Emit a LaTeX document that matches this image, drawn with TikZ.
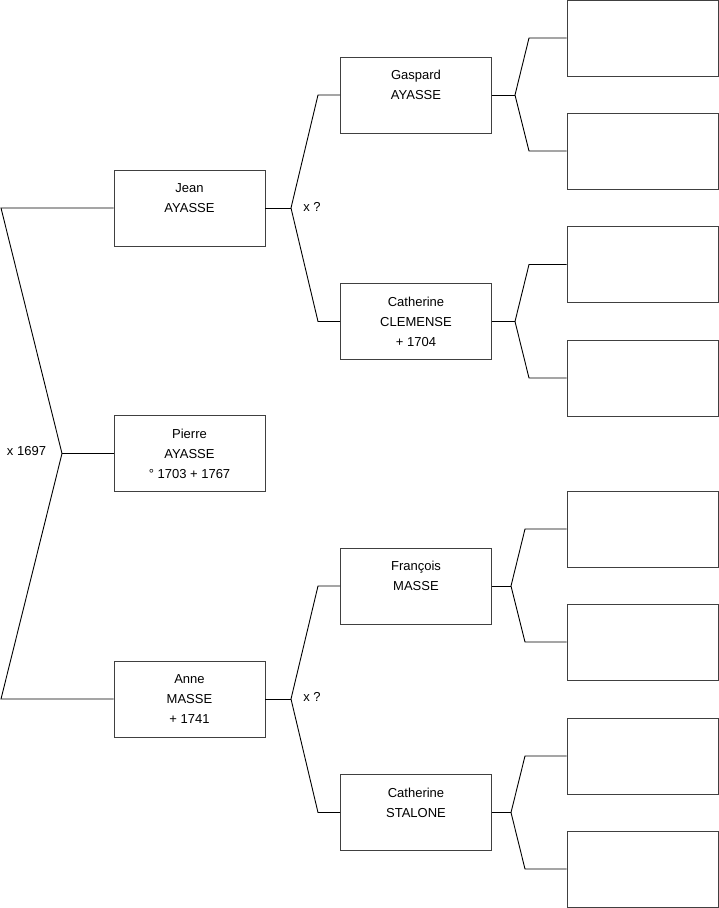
\documentclass[tikz,border=0pt]{standalone}
\usepackage{fontspec}
\setmainfont{Liberation Sans}
\usepackage{tikz}
\usetikzlibrary{positioning, calc}
\tikzstyle{person} = [rectangle, minimum width=151pt, minimum height=76pt, text centered, align=center, draw=black!75, line width=0.9pt, inner sep=0pt, font=\fontsize{13}{20}\selectfont]
\tikzstyle{link} = [line width=0.9pt, draw=black]
\tikzstyle{note} = [font=\fontsize{13}{15}\selectfont, inner sep=0pt]

\begin{document}
\begin{tikzpicture}[x=1pt, y=-1pt]
    \useasboundingbox (0,0) rectangle (719,908);

    % generation 1 and 2
    \node (jean) [person] at (189.5,208) {Jean\\AYASSE\\\phantom{0}};
    \node (pierre) [person] at (189.5,453.5) {Pierre\\AYASSE\\° 1703 + 1767};
    \node (anne) [person] at (189.5,699) {Anne\\MASSE\\+ 1741};

    % generation 3
    \node (gaspard) [person] at (416,95) {Gaspard\\AYASSE\\\phantom{0}};
    \node (clemense) [person] at (416,321.5) {Catherine\\CLEMENSE\\+ 1704};
    \node (francois) [person] at (416,586) {François\\MASSE\\\phantom{0}};
    \node (stalone) [person] at (416,812.5) {Catherine\\STALONE\\\phantom{0}};

    % generation 4 (unknown)
    \node (ga) [person] at (642.5,38) {};
    \node (gb) [person] at (642.5,151) {};
    \node (ca) [person] at (642.5,264.5) {};
    \node (cb) [person] at (642.5,378) {};
    \node (fa) [person] at (642.5,529) {};
    \node (fb) [person] at (642.5,642) {};
    \node (sa) [person] at (642.5,756) {};
    \node (sb) [person] at (642.5,869) {};

    % bracket points
    \coordinate (p) at (62,453.5);
    \coordinate (pt) at (1,208);
    \coordinate (pb) at (1,699);
    \coordinate (j) at (291,208);
    \coordinate (jt) at (318,95);
    \coordinate (jb) at (318,321.5);
    \coordinate (a) at (291,699);
    \coordinate (at) at (318,586);
    \coordinate (ab) at (318,812.5);
    \coordinate (g) at (515,95);
    \coordinate (gt) at (529,38);
    \coordinate (gbt) at (529,151);
    \coordinate (c) at (515,321.5);
    \coordinate (ct) at (529,264.5);
    \coordinate (cbt) at (529,378);
    \coordinate (f) at (511,586);
    \coordinate (ft) at (525,529);
    \coordinate (fbt) at (525,642);
    \coordinate (s) at (511,812.5);
    \coordinate (st) at (525,756);
    \coordinate (sbt) at (525,869);

    \draw [link] (pierre) -- (p);
    \draw [link] (jean) -- (pt) -- (p) -- (pb) -- (anne);
    \draw [link] (jean) -- (j);
    \draw [link] (gaspard) -- (jt) -- (j) -- (jb) -- (clemense);
    \draw [link] (anne) -- (a);
    \draw [link] (francois) -- (at) -- (a) -- (ab) -- (stalone);
    \draw [link] (gaspard) -- (g);
    \draw [link] (ga) -- (gt) -- (g) -- (gbt) -- (gb);
    \draw [link] (clemense) -- (c);
    \draw [link] (ca) -- (ct) -- (c) -- (cbt) -- (cb);
    \draw [link] (francois) -- (f);
    \draw [link] (fa) -- (ft) -- (f) -- (fbt) -- (fb);
    \draw [link] (stalone) -- (s);
    \draw [link] (sa) -- (st) -- (s) -- (sbt) -- (sb);

    % marriages
    \node (m1) [note] at (26.5,451) {x 1697};
    \node (m2) [note] at (312,207) {x ?};
    \node (m3) [note] at (312,697) {x ?};
\end{tikzpicture}
\end{document}
